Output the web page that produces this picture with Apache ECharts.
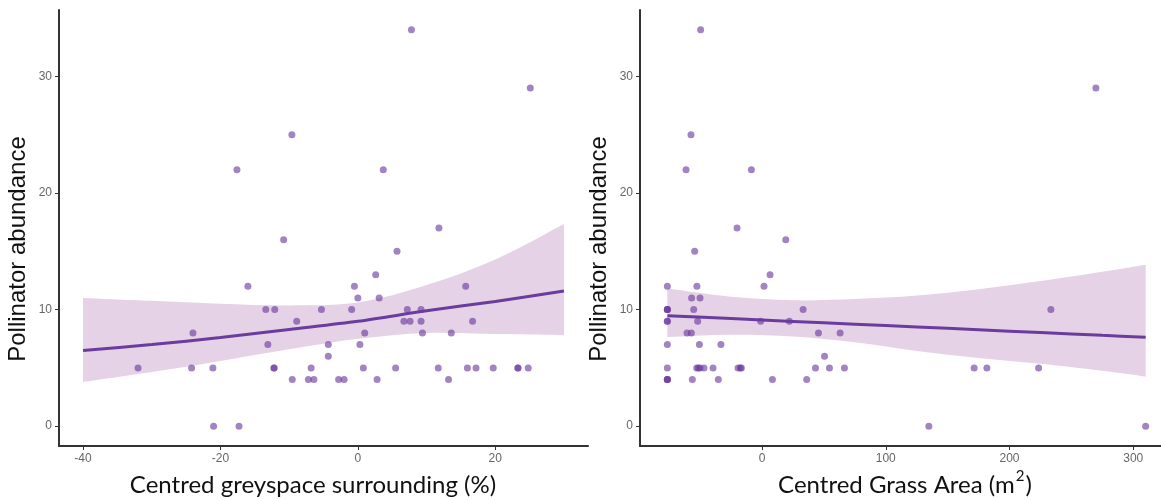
<!DOCTYPE html>
<html>
<head>
<meta charset="utf-8">
<script src="https://cdn.jsdelivr.net/npm/echarts@6/dist/echarts.min.js"></script>
<style>
  html, body { margin: 0; padding: 0; background: #fff; }
  #chart { width: 1161px; height: 500px; }
</style>
</head>
<body>
<div id="chart"></div>
<script>
// Sites: centred greyspace surrounding (%) vs pollinator abundance
const greyX = [-32.0, -24.2, -24.0, -21.1, -21.0, -17.6, -17.3, -16.0, -13.4, -13.1, -12.1, -12.2, -12.2,
  -10.8, -9.6, -9.55, -8.9, -7.2, -6.8, -6.4, -5.3, -4.3, -4.3, -2.8, -2.0, -0.9, -0.5, 0.0, 0.3, 0.8,
  1.0, 2.6, 2.8, 3.1, 3.7, 5.5, 5.7, 6.7, 7.2, 7.6, 7.8, 9.2, 9.2, 9.4, 11.7, 11.8, 13.2, 13.6, 15.7,
  15.95, 16.7, 17.2, 19.7, 23.3, 23.3, 24.8, 25.1];
const greyY = [5, 5, 8, 5, 0, 22, 0, 12, 10, 7, 10, 5, 5,
  16, 25, 4, 9, 4, 5, 4, 10, 7, 6, 4, 4, 10, 12, 11, 7, 5,
  8, 13, 4, 11, 22, 5, 15, 9, 10, 9, 34, 10, 9, 8, 5, 17, 4, 8, 12,
  5, 9, 5, 5, 5, 5, 5, 29];

// Model prediction and 95% band for greyspace
const greyBandX = [-40, -30, -20, -10, 0, 10, 20, 30];
const greyFit   = [6.5, 7.0, 7.6, 8.3, 9.0, 9.9, 10.7, 11.6];
const greyLower = [3.8, 4.65, 5.6, 6.6, 7.5, 8.0, 7.9, 7.8];
const greyUpper = [11.0, 10.75, 10.5, 10.35, 10.6, 12.1, 14.3, 17.35];

// Sites: centred grass area (m2) vs pollinator abundance
const grassX = [-76.5, -76.5, -76.5, -76.5, -76.5, -76.5, -76.5, -76.5, -76.5, -76.5, -76.5,
  -61.4, -57.4, -49.6, -54.4, -52.6, -56.9, -50.1, -55.2, -52.0, -60.6, -57.1, -50.6, -33.2,
  -52.8, -51.4, -50.1, -46.9, -39.6, -19.4, -17.5, -16.7, -56.3, -35.3,
  -8.6, -20.2, 19.2, -1.1, 1.6, 6.5, 8.4, 22.1, 33.2, 36.1, 45.6, 43.2, 50.5, 54.5, 63.1, 66.6,
  269.8, 233.4, 171.4, 181.7, 223.5, 134.8, 310.0];
const grassY = [12, 10, 10, 10, 9, 9, 7, 5, 4, 4, 4,
  22, 25, 34, 15, 12, 11, 11, 10, 9, 8, 8, 7, 7,
  5, 5, 5, 5, 5, 5, 5, 5, 4, 4,
  22, 17, 16, 9, 12, 13, 4, 9, 10, 4, 8, 5, 6, 5, 8, 5,
  29, 10, 5, 5, 5, 0, 0];

// Model prediction and 95% band for grass area
const grassBandX = [-76.5, -25, 25, 75, 125, 175, 225, 275, 310];
const grassFit   = [9.48, 9.23, 8.99, 8.75, 8.51, 8.27, 8.03, 7.79, 7.63];
const grassLower = [7.65, 7.85, 7.7, 7.2, 6.45, 5.85, 5.35, 4.75, 4.25];
const grassUpper = [11.8, 11.1, 10.8, 10.9, 11.2, 11.75, 12.45, 13.25, 13.85];

const yTicks = [0, 10, 20, 30];
const greyTicks = [-40, -20, 0, 20];
const grassTicks = [0, 100, 200, 300];

const yTitle = 'Pollinator abundance';
const greyTitle = 'Centred greyspace surrounding (%)';

const POINT = 'rgba(106, 58, 158, 0.78)';
const LINE = '#6a3c9e';
const BAND = '#e6d2e6';
const AXIS = '#333333';
const TICKLBL = '#666666';

const zip = (a, b) => a.map((v, i) => [v, b[i]]);

function xAxisOf(gridIndex, min, max, ticks) {
  return {
    type: 'value', gridIndex, min, max,
    splitLine: { show: false },
    axisLine: { show: true, onZero: false, lineStyle: { color: AXIS, width: 2 } },
    axisTick: { show: true, length: 4, customValues: ticks, lineStyle: { color: AXIS, width: 1 } },
    axisLabel: { customValues: ticks, color: TICKLBL, fontSize: 12, margin: 7, fontFamily: 'Liberation Sans' }
  };
}
function yAxisOf(gridIndex) {
  return {
    type: 'value', gridIndex, min: -1.7, max: 35.7,
    splitLine: { show: false },
    axisLine: { show: true, onZero: false, lineStyle: { color: AXIS, width: 2 } },
    axisTick: { show: true, length: 4, customValues: yTicks, lineStyle: { color: AXIS, width: 1 } },
    axisLabel: { customValues: yTicks, color: TICKLBL, fontSize: 12, margin: 7, fontFamily: 'Liberation Sans' }
  };
}

// Catmull-Rom spline through pixel points, emitted as cubic Bezier segments
function splineSegments(p) {
  let s = '';
  for (let i = 0; i < p.length - 1; i++) {
    const p0 = p[i - 1] || p[i], p1 = p[i], p2 = p[i + 1], p3 = p[i + 2] || p[i + 1];
    const c1 = [p1[0] + (p2[0] - p0[0]) / 6, p1[1] + (p2[1] - p0[1]) / 6];
    const c2 = [p2[0] - (p3[0] - p1[0]) / 6, p2[1] - (p3[1] - p1[1]) / 6];
    s += ` C${c1[0]} ${c1[1]} ${c2[0]} ${c2[1]} ${p2[0]} ${p2[1]}`;
  }
  return s;
}

function bandSeries(idx, xs, lo, hi, fit, px, py) {
  return [
    {
      type: 'custom', xAxisIndex: idx, yAxisIndex: idx, silent: true, z: 1,
      data: xs.map((x, i) => [x, lo[i], hi[i]]),
      encode: { x: 0, y: [1, 2] },
      renderItem: function (params, api) {
        if (params.dataIndex !== 0) return null;
        const up = xs.map((x, i) => api.coord([x, hi[i]]));
        const dn = xs.map((x, i) => api.coord([x, lo[i]])).reverse();
        const d = `M${up[0][0]} ${up[0][1]}` + splineSegments(up) +
          ` L${dn[0][0]} ${dn[0][1]}` + splineSegments(dn) + ' Z';
        return { type: 'path', shape: { pathData: d }, style: { fill: BAND, stroke: null } };
      }
    },
    {
      type: 'line', xAxisIndex: idx, yAxisIndex: idx,
      data: zip(xs, fit), symbol: 'none', smooth: 0.3,
      lineStyle: { color: LINE, width: 3 }, z: 2
    },
    {
      type: 'scatter', xAxisIndex: idx, yAxisIndex: idx,
      data: zip(px, py), symbolSize: 7,
      itemStyle: { color: POINT, borderWidth: 0 }, z: 3
    }
  ];
}

const chart = echarts.init(document.getElementById('chart'));
chart.setOption({
  animation: false,
  backgroundColor: '#ffffff',
  grid: [
    { left: 59, top: 10, width: 529, height: 436 },
    { left: 640, top: 10, width: 521, height: 436 }
  ],
  xAxis: [
    xAxisOf(0, -43.5, 33.5, greyTicks),
    xAxisOf(1, -98.6, 322.4, grassTicks)
  ],
  yAxis: [yAxisOf(0), yAxisOf(1)],
  series: [
    ...bandSeries(0, greyBandX, greyLower, greyUpper, greyFit, greyX, greyY),
    ...bandSeries(1, grassBandX, grassLower, grassUpper, grassFit, grassX, grassY)
  ],
  graphic: [
    {
      type: 'text', x: 18, y: 249, rotation: Math.PI / 2,
      style: { text: yTitle, fill: '#111', font: '24px "Liberation Sans"', align: 'center', verticalAlign: 'middle' }
    },
    {
      type: 'text', x: 599, y: 249, rotation: Math.PI / 2,
      style: { text: yTitle, fill: '#111', font: '24px "Liberation Sans"', align: 'center', verticalAlign: 'middle' }
    },
    {
      type: 'text', x: 313, y: 485,
      style: { text: greyTitle, fill: '#111', font: '24px Lato', align: 'center', verticalAlign: 'middle' }
    },
    {
      type: 'text', x: 905, y: 482,
      style: {
        text: '{t|Centred Grass Area (m}{s|2}{t|)}',
        align: 'center', verticalAlign: 'middle',
        rich: {
          t: { fontFamily: 'Lato', fontSize: 24, fill: '#111', color: '#111', verticalAlign: 'bottom', lineHeight: 30 },
          s: { fontFamily: 'Lato', fontSize: 15, fill: '#111', color: '#111', verticalAlign: 'top', lineHeight: 30, padding: [2, 1, 0, 1] }
        }
      }
    }
  ]
});
</script>
</body>
</html>
